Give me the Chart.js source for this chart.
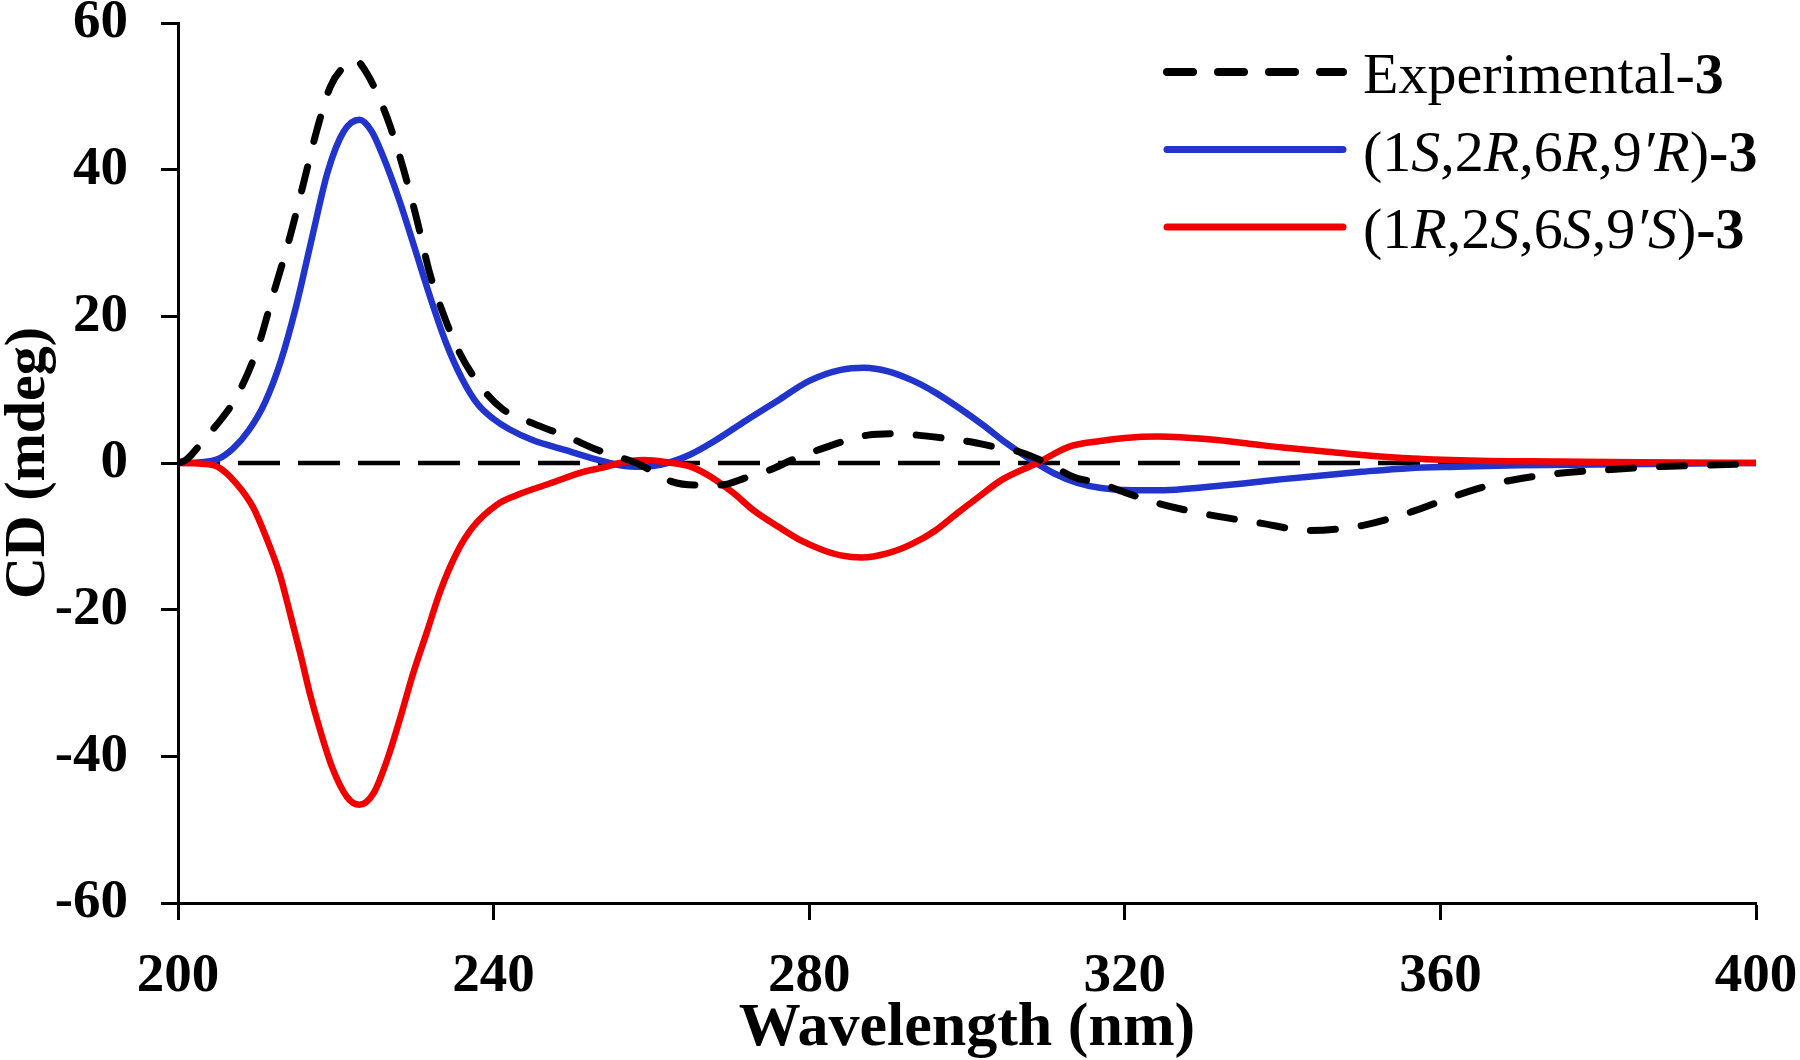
<!DOCTYPE html>
<html>
<head>
<meta charset="utf-8">
<script src="https://cdn.jsdelivr.net/npm/chart.js@4.4.0/dist/chart.umd.min.js"></script>
<style>
  body { margin: 0; background: #fff; }
  #cdChart { display: block; }
</style>
</head>
<body>
<canvas id="cdChart" width="1800" height="1060"></canvas>
<script>
// Experimental-3 (dashed black)
const expNm = [200, 201, 203.6, 205.5, 207.4, 210, 212.1, 214.2, 215.9, 217.6, 219.3, 221, 222.4, 223.9, 225.6, 226.9, 228.6, 230.3, 231.9, 233.6, 235.7, 238.7, 241.2, 245, 249.3, 253.1, 255.7, 258.5, 262.5, 265.5, 268.8, 272, 275, 278, 281.2, 284.5, 287.4, 290.5, 293.7, 297, 300.4, 303.5, 306.7, 310.1, 313.5, 316.9, 320, 324.2, 330.4, 337.2, 343.4, 350.2, 356.5, 362.1, 368.3, 375.1, 381.4, 387.6, 393.8, 400];
const expCD = [0, 0.4, 3.6, 6.0, 9, 15.4, 23.1, 30.9, 38.1, 45.4, 51.3, 54, 55, 53.2, 49.5, 45.9, 40, 33.1, 25.9, 20.4, 15, 10, 7.3, 5.4, 3.6, 1.8, 0.9, -0.2, -2.5, -3.0, -3.0, -2.0, -0.95, 0.5, 1.8, 3.0, 3.8, 4.0, 3.8, 3.4, 2.9, 2.2, 1.5, 0, -1.9, -2.8, -4.0, -5.5, -7.0, -8.2, -9.2, -8.5, -6.6, -4.4, -2.5, -1.4, -0.9, -0.5, -0.3, -0.1];

// (1S,2R,6R,9'R)-3 (blue)
const calcANm = [200, 203, 205, 207, 209, 211, 213, 215, 217, 219, 221, 223, 224.5, 226, 228, 230, 232, 234, 236, 238, 240, 242, 245, 249, 253, 256, 259, 262, 265, 268, 272, 276, 280, 284, 287, 290, 293, 296, 299, 302, 305, 308, 311, 314, 317, 321, 325, 330, 335, 340, 345, 350, 356, 362, 370, 380, 390, 400];
const calcACD = [0, 0.1, 0.5, 2.0, 4.5, 8.2, 13.8, 21.5, 30.8, 39.8, 45.2, 46.8, 45.3, 41.8, 36.0, 29.3, 22.5, 16.3, 11.5, 8.0, 6.0, 4.6, 3.1, 1.8, 0.5, -0.3, -0.5, 0, 1.2, 3.0, 5.8, 8.5, 11.2, 12.7, 13.0, 12.5, 11.3, 9.6, 7.5, 5.2, 2.7, 0.5, -1.4, -2.7, -3.4, -3.7, -3.7, -3.3, -2.8, -2.2, -1.7, -1.2, -0.7, -0.5, -0.3, -0.2, -0.1, 0];

// (1R,2S,6S,9'S)-3 (red)
const calcBNm = [200, 203, 205, 207.4, 209.5, 211.2, 212.9, 214.2, 215.5, 216.7, 218, 219.5, 221.4, 223, 224.8, 226.5, 228.1, 229.8, 231.5, 233.2, 235.3, 237.4, 240.4, 242.9, 247.1, 251.4, 254, 256, 259, 262, 265, 268, 270.4, 273, 276.1, 279, 281.8, 284, 286.6, 290, 293.1, 296, 298.7, 301.5, 304.4, 308.9, 312.9, 316.9, 320, 324.2, 331, 336, 340, 345, 350, 356.5, 365, 375, 385, 400];
const calcBCD = [0, -0.1, -0.5, -2.8, -6.0, -10.2, -15.2, -20.5, -26, -31.4, -36.4, -41.4, -45.5, -46.6, -45, -40.5, -35, -28.7, -23.2, -17.6, -12.3, -8.7, -5.7, -4.4, -2.8, -1.2, -0.6, 0, 0.4, 0.1, -0.5, -2.2, -4.1, -6.5, -8.7, -10.6, -11.9, -12.6, -12.9, -12.3, -11, -9.2, -6.9, -4.6, -2.3, 0, 2.2, 3.0, 3.4, 3.6, 3.2, 2.6, 2.1, 1.6, 1.1, 0.6, 0.3, 0.2, 0.1, 0];

// baseline
const zeroNm = [200, 400];
const zeroCD = [0, 0];

const xTicks = [200, 240, 280, 320, 360, 400];
const yTicks = [-60, -40, -20, 0, 20, 40, 60];

const BLUE = 'rgb(33, 52, 204)';
const RED = 'rgb(242, 0, 0)';
const SERIF = '"Liberation Serif", "Times New Roman", serif';

const toPoints = (xs, ys) => xs.map((x, i) => ({ x: x, y: ys[i] }));

// legend text pieces: [text, style]
const legendItems = [
  { color: '#000', width: 8, dash: [26, 25],
    parts: [['Experimental-', 'normal'], ['3', 'bold']] },
  { color: BLUE, width: 7, dash: [],
    parts: [['(1', 'normal'], ['S', 'italic'], [',2', 'normal'], ['R', 'italic'], [',6', 'normal'], ['R', 'italic'], [',9', 'normal'], ['\u2032R', 'italic'], [')', 'normal'], ['-3', 'bold']] },
  { color: RED, width: 7, dash: [],
    parts: [['(1', 'normal'], ['R', 'italic'], [',2', 'normal'], ['S', 'italic'], [',6', 'normal'], ['S', 'italic'], [',9', 'normal'], ['\u2032S', 'italic'], [')', 'normal'], ['-3', 'bold']] }
];

const legendPlugin = {
  id: 'cdLegend',
  afterDraw(chart) {
    const ctx = chart.ctx;
    legendItems.forEach((item, i) => {
      const y = 72 + i * 77.5;
      ctx.save();
      ctx.strokeStyle = item.color;
      ctx.lineWidth = item.width;
      ctx.lineCap = 'round';
      ctx.setLineDash(item.dash);
      ctx.beginPath();
      ctx.moveTo(1167, y);
      ctx.lineTo(1343, y);
      ctx.stroke();
      ctx.setLineDash([]);
      ctx.fillStyle = '#000';
      ctx.textBaseline = 'alphabetic';
      let x = 1363;
      item.parts.forEach(([txt, style]) => {
        if (style === 'bold') ctx.font = 'bold 58px ' + SERIF;
        else if (style === 'italic') ctx.font = 'italic 58px ' + SERIF;
        else ctx.font = '58px ' + SERIF;
        ctx.fillText(txt, x, y + 21);
        x += ctx.measureText(txt).width;
      });
      ctx.restore();
    });
  }
};

const config = {
  type: 'line',
  data: {
    datasets: [
      {
        label: 'Experimental-3',
        data: toPoints(expNm, expCD),
        borderColor: '#000',
        borderWidth: 7,
        borderDash: [25, 26],
        borderCapStyle: 'round',
        order: 0
      },
      {
        label: 'calc (1R,2S,6S,9\'S)-3',
        data: toPoints(calcBNm, calcBCD),
        borderColor: RED,
        borderWidth: 6.5,
        order: 1
      },
      {
        label: 'calc (1S,2R,6R,9\'R)-3',
        data: toPoints(calcANm, calcACD),
        borderColor: BLUE,
        borderWidth: 6.5,
        order: 2
      },
      {
        label: 'zero',
        data: toPoints(zeroNm, zeroCD),
        borderColor: '#000',
        borderWidth: 4.5,
        borderDash: [42, 18],
        order: 3
      }
    ]
  },
  options: {
    responsive: false,
    animation: false,
    events: [],
    elements: {
      point: { radius: 0 },
      line: { cubicInterpolationMode: 'monotone', fill: false }
    },
    layout: {
      padding: { top: 23, right: 44, left: 0, bottom: 0 }
    },
    plugins: {
      legend: { display: false }, // drawn by cdLegend
      tooltip: { enabled: false }
    },
    scales: {
      x: {
        type: 'linear',
        min: 200,
        max: 400,
        afterBuildTicks: (scale) => { scale.ticks = xTicks.map(v => ({ value: v })); },
        afterFit: (scale) => {
          scale.height = 157;
          scale.paddingLeft = 0;   // don't let label overhang push the plot
          scale.paddingRight = 0;
        },
        ticks: {
          color: '#000',
          padding: 29,
          maxRotation: 0,
          font: { family: SERIF, weight: 'bold', size: 55, lineHeight: 1 }
        },
        grid: {
          drawOnChartArea: false,
          drawTicks: true,
          tickLength: 17,
          tickWidth: 3,
          tickColor: '#000'
        },
        border: { display: true, color: '#000', width: 3 },
        title: {
          display: true,
          text: 'Wavelength (nm)',
          color: '#000',
          padding: 0,
          font: { family: SERIF, weight: 'bold', size: 62, lineHeight: 1 }
        }
      },
      y: {
        type: 'linear',
        min: -60,
        max: 60,
        afterBuildTicks: (scale) => { scale.ticks = yTicks.map(v => ({ value: v })); },
        afterFit: (scale) => {
          scale.width = 178;
          scale.paddingTop = 0;
          scale.paddingBottom = 0;
        },
        ticks: {
          color: '#000',
          padding: 33,
          font: { family: SERIF, weight: 'bold', size: 55, lineHeight: 1 }
        },
        grid: {
          drawOnChartArea: false,
          drawTicks: true,
          tickLength: 17,
          tickWidth: 3,
          tickColor: '#000'
        },
        border: { display: true, color: '#000', width: 3 },
        title: {
          display: true,
          text: 'CD (mdeg)',
          color: '#000',
          padding: 0,
          font: { family: SERIF, weight: 'bold', size: 58, lineHeight: 1 }
        }
      }
    }
  },
  plugins: [legendPlugin]
};

const cdChart = new Chart(
  document.getElementById('cdChart'),
  config
);
</script>
</body>
</html>
